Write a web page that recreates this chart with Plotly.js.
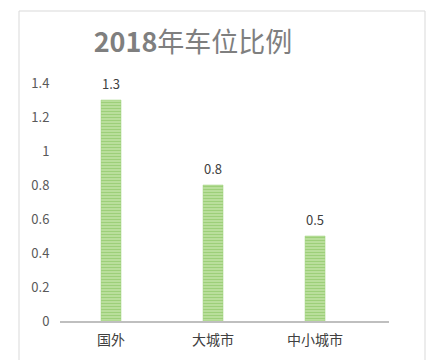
<!DOCTYPE html>
<html>
<head>
<meta charset="utf-8">
<script src="https://cdn.plot.ly/plotly-3.0.1.min.js"></script>
<style>html,body{margin:0;padding:0;background:#fff;}#chart{width:447px;height:360px;}</style>
</head>
<body>
<div id="chart"></div>
<script>
const categories = ["国外", "大城市", "中小城市"];
const values = [1.3, 0.8, 0.5];
const valueLabels = ["1.3", "0.8", "0.5"];
const yTickVals = [0, 0.2, 0.4, 0.6, 0.8, 1, 1.2, 1.4];
const yTickText = ["0", "0.2", "0.4", "0.6", "0.8", "1", "1.2", "1.4"];

const font = "'Noto Sans CJK SC', 'Noto Sans', sans-serif";

const trace = {
  type: "bar",
  x: [0, 1, 2],
  y: values,
  width: 0.196,
  marker: {
    color: "#c2e4a6",
    line: {color: "#9fd27d", width: 0.5},
    pattern: {shape: "-", fgcolor: "#78ba4b", bgcolor: "#c2e4a6", size: 3, solidity: 0.5, fillmode: "overlay"}
  },
  hoverinfo: "none"
};

const annotations = categories.map((c, i) => ({
  x: i, y: values[i], xref: "x", yref: "y",
  text: valueLabels[i], showarrow: false,
  yanchor: "middle", yshift: 17,
  font: {family: font, size: 13, color: "#404040"}
}));

const layout = {
  width: 447, height: 360,
  margin: {l: 60, r: 58, t: 83, b: 39},
  paper_bgcolor: "#fff", plot_bgcolor: "#fff",
  showlegend: false,
  title: {
    text: "<b>2018</b>年车位比例",
    xref: "container", yref: "container",
    x: 193 / 447, xanchor: "center",
    y: 1 - 43 / 360, yanchor: "middle",
    font: {family: font, size: 27, color: "#7f7f7f"}
  },
  xaxis: {
    range: [-0.5, 2.725],
    tickvals: [0, 1, 2], ticktext: categories,
    showgrid: false, zeroline: false,
    showline: true, linecolor: "#bfbfbf", linewidth: 2,
    ticks: "outside", ticklen: 5, tickcolor: "rgba(0,0,0,0)",
    tickfont: {family: font, size: 14, color: "#404040"},
    fixedrange: true
  },
  yaxis: {
    range: [0, 1.4],
    tickvals: yTickVals, ticktext: yTickText,
    showgrid: false, zeroline: false, showline: false,
    ticks: "outside", ticklen: 7, tickcolor: "rgba(0,0,0,0)",
    tickfont: {family: font, size: 13, color: "#595959"},
    fixedrange: true
  },
  annotations: annotations,
  shapes: [{
    type: "rect", xref: "paper", yref: "paper",
    x0: (19 - 60) / 329, x1: (425 - 60) / 329,
    y0: (321 - 370) / 238, y1: (321 - 11) / 238,
    line: {color: "#d9d9d9", width: 1}, fillcolor: "rgba(0,0,0,0)", layer: "below"
  }]
};

Plotly.newPlot("chart", [trace], layout, {displayModeBar: false, staticPlot: true});
</script>
</body>
</html>
